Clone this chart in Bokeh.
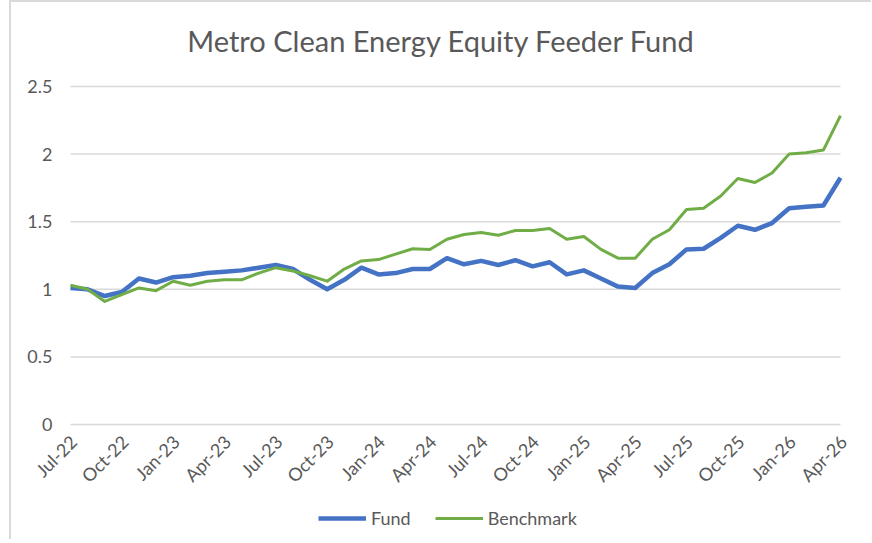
import math
from bokeh.plotting import figure
from bokeh.models import ColumnDataSource, Range1d, Legend, LegendItem
from bokeh.core.properties import value
from bokeh.embed import file_html
from bokeh.resources import INLINE

months = ["Jul-22", "Aug-22", "Sep-22", "Oct-22", "Nov-22", "Dec-22",
          "Jan-23", "Feb-23", "Mar-23", "Apr-23", "May-23", "Jun-23",
          "Jul-23", "Aug-23", "Sep-23", "Oct-23", "Nov-23", "Dec-23",
          "Jan-24", "Feb-24", "Mar-24", "Apr-24", "May-24", "Jun-24",
          "Jul-24", "Aug-24", "Sep-24", "Oct-24", "Nov-24", "Dec-24",
          "Jan-25", "Feb-25", "Mar-25", "Apr-25", "May-25", "Jun-25",
          "Jul-25", "Aug-25", "Sep-25", "Oct-25", "Nov-25", "Dec-25",
          "Jan-26", "Feb-26", "Mar-26", "Apr-26"]

fund = [1.01, 1.00, 0.95, 0.98, 1.08, 1.05, 1.09, 1.10, 1.12, 1.13, 1.14, 1.16,
        1.18, 1.15, 1.07, 1.00, 1.07, 1.16, 1.11, 1.12, 1.15, 1.15, 1.23, 1.185,
        1.21, 1.18, 1.215, 1.17, 1.20, 1.11, 1.14, 1.08, 1.02, 1.01, 1.12, 1.185,
        1.295, 1.30, 1.38, 1.47, 1.44, 1.49, 1.60, 1.61, 1.62, 1.825]

benchmark = [1.03, 1.00, 0.91, 0.96, 1.01, 0.99, 1.06, 1.03, 1.06, 1.07, 1.07, 1.12,
             1.16, 1.135, 1.10, 1.06, 1.15, 1.21, 1.22, 1.26, 1.30, 1.295, 1.37, 1.405,
             1.42, 1.40, 1.435, 1.435, 1.45, 1.37, 1.39, 1.295, 1.23, 1.23, 1.37, 1.44,
             1.59, 1.60, 1.69, 1.82, 1.79, 1.86, 2.00, 2.01, 2.03, 2.285]

y_ticks = [0, 0.5, 1, 1.5, 2, 2.5]
y_tick_labels = ["0", "0.5", "1", "1.5", "2", "2.5"]
x_tick_step = 3

title_text = "Metro Clean Energy Equity Feeder Fund"
FONT = "Lato"
GRAY = "#595959"

# layout (pixels): value band 770 x 338, with room around it for labels
BAND_W, BAND_H = 770, 338
PAD_L, PAD_R = 59, 31     # room left / right of the value band
PAD_T, PAD_B = 11, 115    # room above / below the value band
n_last = len(months) - 1
Y_MAX = y_ticks[-1]
px_x = BAND_W / n_last
px_y = BAND_H / Y_MAX

idx = list(range(len(months)))
src = ColumnDataSource(data=dict(x=idx, fund=fund, benchmark=benchmark))
xticks = idx[::x_tick_step]
xtick_src = ColumnDataSource(data=dict(x=xticks, y=[0] * len(xticks),
                                       label=[months[i] for i in xticks]))
ytick_src = ColumnDataSource(data=dict(x=[0] * len(y_ticks), x1=[n_last] * len(y_ticks),
                                       y=y_ticks, label=y_tick_labels))

p = figure(frame_width=BAND_W + PAD_L + PAD_R, frame_height=BAND_H + PAD_T + PAD_B,
           output_backend="svg", toolbar_location=None,
           x_range=Range1d(-PAD_L / px_x, n_last + PAD_R / px_x),
           y_range=Range1d(-PAD_B / px_y, Y_MAX + PAD_T / px_y),
           min_border_left=0, min_border_right=0, min_border_top=40,
           min_border_bottom=0)

p.title.text = title_text
p.title.align = "center"
p.title.text_font = FONT
p.title.text_font_size = "29px"
p.title.text_font_style = "normal"
p.title.text_color = GRAY
p.title.offset = 6
p.title.standoff = 36

p.outline_line_color = None
p.styles = {"border-left": "2px solid #d9d9d9", "border-top": "2px solid #d9d9d9",
            "margin-left": "9px", "margin-top": "0px"}

p.xaxis.visible = False
p.yaxis.visible = False
p.grid.visible = False

# horizontal gridlines
p.segment(x0="x", x1="x1", y0="y", y1="y", source=ytick_src,
          line_color="#d9d9d9", line_width=1.5)

# y tick labels
p.text(x="x", y="y", text="label", source=ytick_src, text_align="right",
       text_baseline="middle", x_offset=-18, y_offset=0,
       text_font=value(FONT), text_font_size="18px", text_color=GRAY)

# x tick labels, rotated, at y = 0
p.text(x="x", y="y", text="label", source=xtick_src, angle=math.pi / 4,
       text_align="right", text_baseline="middle", x_offset=3, y_offset=14,
       text_font=value(FONT), text_font_size="18px", text_color=GRAY)

r_fund = p.line("x", "fund", source=src, line_color="#4472C4", line_width=4.5,
                line_join="round")
r_bench = p.line("x", "benchmark", source=src, line_color="#70AD47", line_width=3,
                 line_join="round")

legend = Legend(items=[LegendItem(label="Fund", renderers=[r_fund]),
                       LegendItem(label="Benchmark", renderers=[r_bench])],
                orientation="horizontal", location=(307, 10),
                glyph_width=48, glyph_height=18, label_height=18,
                label_standoff=5, spacing=24, padding=0, margin=0,
                label_text_font=FONT, label_text_font_size="18px",
                label_text_color=GRAY, background_fill_alpha=0,
                border_line_color=None)
p.add_layout(legend, "center")

open("out.html", "w").write(file_html(p, INLINE))
